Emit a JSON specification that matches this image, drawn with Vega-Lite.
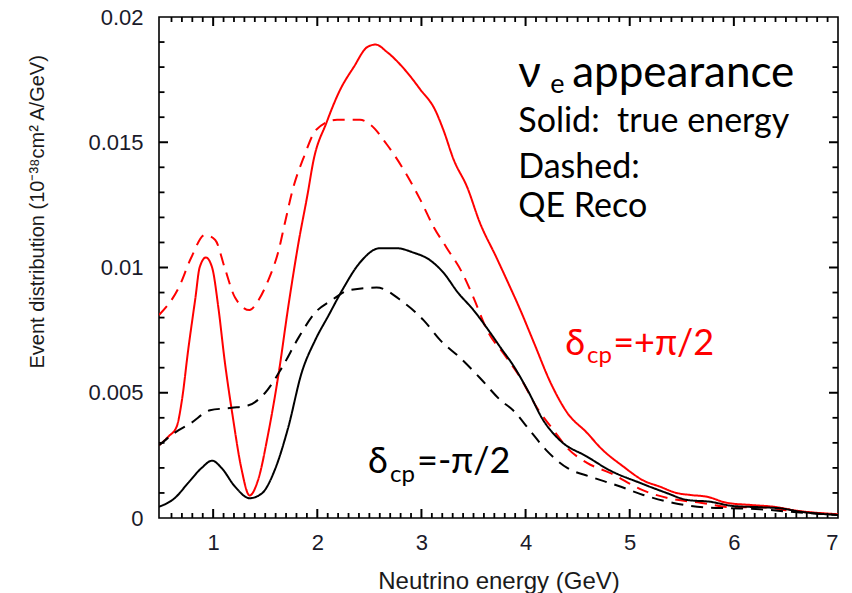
{
  "$schema": "https://vega.github.io/schema/vega-lite/v6.json",
  "autosize": {"type": "none"},
  "padding": {"left": 159, "top": 17, "right": 14, "bottom": 75},
  "width": 679,
  "height": 501,
  "background": "white",
  "config": {
    "view": {"stroke": "#000000", "strokeWidth": 1.6},
    "axis": {"grid": false, "domain": false, "labelFont": "Liberation Sans", "titleFont": "Liberation Sans", "labelFontSize": 22, "titleFontSize": 22, "labelColor": "#1a1a2a", "titleColor": "#1a1a1a", "titleFontWeight": "normal"}
  },
  "datasets": {
    "curves": [
      {"E": 0.48, "y": 0.0029, "series": "+π/2", "energy": "true"},
      {"E": 0.57, "y": 0.00325, "series": "+π/2", "energy": "true"},
      {"E": 0.65, "y": 0.00365, "series": "+π/2", "energy": "true"},
      {"E": 0.70, "y": 0.0047, "series": "+π/2", "energy": "true"},
      {"E": 0.76, "y": 0.0067, "series": "+π/2", "energy": "true"},
      {"E": 0.83, "y": 0.0088, "series": "+π/2", "energy": "true"},
      {"E": 0.87, "y": 0.0100, "series": "+π/2", "energy": "true"},
      {"E": 0.93, "y": 0.0104, "series": "+π/2", "energy": "true"},
      {"E": 0.99, "y": 0.0100, "series": "+π/2", "energy": "true"},
      {"E": 1.05, "y": 0.0084, "series": "+π/2", "energy": "true"},
      {"E": 1.11, "y": 0.0063, "series": "+π/2", "energy": "true"},
      {"E": 1.19, "y": 0.0040, "series": "+π/2", "energy": "true"},
      {"E": 1.27, "y": 0.0020, "series": "+π/2", "energy": "true"},
      {"E": 1.35, "y": 0.0009, "series": "+π/2", "energy": "true"},
      {"E": 1.43, "y": 0.0015, "series": "+π/2", "energy": "true"},
      {"E": 1.53, "y": 0.0034, "series": "+π/2", "energy": "true"},
      {"E": 1.63, "y": 0.0058, "series": "+π/2", "energy": "true"},
      {"E": 1.72, "y": 0.0084, "series": "+π/2", "energy": "true"},
      {"E": 1.82, "y": 0.0110, "series": "+π/2", "energy": "true"},
      {"E": 1.91, "y": 0.0130, "series": "+π/2", "energy": "true"},
      {"E": 1.96, "y": 0.0142, "series": "+π/2", "energy": "true"},
      {"E": 2.09, "y": 0.0158, "series": "+π/2", "energy": "true"},
      {"E": 2.22, "y": 0.0171, "series": "+π/2", "energy": "true"},
      {"E": 2.35, "y": 0.0180, "series": "+π/2", "energy": "true"},
      {"E": 2.48, "y": 0.0188, "series": "+π/2", "energy": "true"},
      {"E": 2.56, "y": 0.0189, "series": "+π/2", "energy": "true"},
      {"E": 2.67, "y": 0.0186, "series": "+π/2", "energy": "true"},
      {"E": 2.86, "y": 0.0178, "series": "+π/2", "energy": "true"},
      {"E": 2.99, "y": 0.0171, "series": "+π/2", "energy": "true"},
      {"E": 3.13, "y": 0.0163, "series": "+π/2", "energy": "true"},
      {"E": 3.21, "y": 0.0155, "series": "+π/2", "energy": "true"},
      {"E": 3.31, "y": 0.0143, "series": "+π/2", "energy": "true"},
      {"E": 3.44, "y": 0.0132, "series": "+π/2", "energy": "true"},
      {"E": 3.56, "y": 0.0118, "series": "+π/2", "energy": "true"},
      {"E": 3.72, "y": 0.0104, "series": "+π/2", "energy": "true"},
      {"E": 3.82, "y": 0.0095, "series": "+π/2", "energy": "true"},
      {"E": 3.95, "y": 0.0083, "series": "+π/2", "energy": "true"},
      {"E": 4.08, "y": 0.0070, "series": "+π/2", "energy": "true"},
      {"E": 4.24, "y": 0.0054, "series": "+π/2", "energy": "true"},
      {"E": 4.40, "y": 0.0042, "series": "+π/2", "energy": "true"},
      {"E": 4.59, "y": 0.0034, "series": "+π/2", "energy": "true"},
      {"E": 4.72, "y": 0.0028, "series": "+π/2", "energy": "true"},
      {"E": 4.94, "y": 0.00205, "series": "+π/2", "energy": "true"},
      {"E": 5.13, "y": 0.0015, "series": "+π/2", "energy": "true"},
      {"E": 5.29, "y": 0.00125, "series": "+π/2", "energy": "true"},
      {"E": 5.45, "y": 0.0010, "series": "+π/2", "energy": "true"},
      {"E": 5.58, "y": 0.00092, "series": "+π/2", "energy": "true"},
      {"E": 5.74, "y": 0.00085, "series": "+π/2", "energy": "true"},
      {"E": 5.93, "y": 0.00061, "series": "+π/2", "energy": "true"},
      {"E": 6.16, "y": 0.00052, "series": "+π/2", "energy": "true"},
      {"E": 6.38, "y": 0.00045, "series": "+π/2", "energy": "true"},
      {"E": 6.61, "y": 0.00029, "series": "+π/2", "energy": "true"},
      {"E": 7.0, "y": 0.00015, "series": "+π/2", "energy": "true"},

      {"E": 0.48, "y": 0.0081, "series": "+π/2", "energy": "QE"},
      {"E": 0.67, "y": 0.0092, "series": "+π/2", "energy": "QE"},
      {"E": 0.79, "y": 0.0104, "series": "+π/2", "energy": "QE"},
      {"E": 0.92, "y": 0.0113, "series": "+π/2", "energy": "QE"},
      {"E": 1.02, "y": 0.0111, "series": "+π/2", "energy": "QE"},
      {"E": 1.11, "y": 0.0100, "series": "+π/2", "energy": "QE"},
      {"E": 1.21, "y": 0.0088, "series": "+π/2", "energy": "QE"},
      {"E": 1.35, "y": 0.0083, "series": "+π/2", "energy": "QE"},
      {"E": 1.42, "y": 0.0086, "series": "+π/2", "energy": "QE"},
      {"E": 1.53, "y": 0.0095, "series": "+π/2", "energy": "QE"},
      {"E": 1.63, "y": 0.0107, "series": "+π/2", "energy": "QE"},
      {"E": 1.69, "y": 0.0118, "series": "+π/2", "energy": "QE"},
      {"E": 1.77, "y": 0.0132, "series": "+π/2", "energy": "QE"},
      {"E": 1.87, "y": 0.0144, "series": "+π/2", "energy": "QE"},
      {"E": 1.99, "y": 0.0155, "series": "+π/2", "energy": "QE"},
      {"E": 2.19, "y": 0.0159, "series": "+π/2", "energy": "QE"},
      {"E": 2.41, "y": 0.0159, "series": "+π/2", "energy": "QE"},
      {"E": 2.51, "y": 0.0157, "series": "+π/2", "energy": "QE"},
      {"E": 2.67, "y": 0.0149, "series": "+π/2", "energy": "QE"},
      {"E": 2.83, "y": 0.0139, "series": "+π/2", "energy": "QE"},
      {"E": 2.99, "y": 0.0127, "series": "+π/2", "energy": "QE"},
      {"E": 3.12, "y": 0.0116, "series": "+π/2", "energy": "QE"},
      {"E": 3.24, "y": 0.0108, "series": "+π/2", "energy": "QE"},
      {"E": 3.39, "y": 0.0098, "series": "+π/2", "energy": "QE"},
      {"E": 3.50, "y": 0.0088, "series": "+π/2", "energy": "QE"},
      {"E": 3.63, "y": 0.0075, "series": "+π/2", "energy": "QE"},
      {"E": 3.80, "y": 0.0065, "series": "+π/2", "energy": "QE"},
      {"E": 3.95, "y": 0.0056, "series": "+π/2", "energy": "QE"},
      {"E": 4.11, "y": 0.0044, "series": "+π/2", "energy": "QE"},
      {"E": 4.27, "y": 0.0035, "series": "+π/2", "energy": "QE"},
      {"E": 4.40, "y": 0.0028, "series": "+π/2", "energy": "QE"},
      {"E": 4.59, "y": 0.0022, "series": "+π/2", "energy": "QE"},
      {"E": 4.81, "y": 0.0018, "series": "+π/2", "energy": "QE"},
      {"E": 5.13, "y": 0.0011, "series": "+π/2", "energy": "QE"},
      {"E": 5.42, "y": 0.00075, "series": "+π/2", "energy": "QE"},
      {"E": 5.68, "y": 0.00061, "series": "+π/2", "energy": "QE"},
      {"E": 5.97, "y": 0.00043, "series": "+π/2", "energy": "QE"},
      {"E": 6.25, "y": 0.00043, "series": "+π/2", "energy": "QE"},
      {"E": 6.54, "y": 0.00029, "series": "+π/2", "energy": "QE"},
      {"E": 7.0, "y": 0.00012, "series": "+π/2", "energy": "QE"},

      {"E": 0.48, "y": 0.00045, "series": "−π/2", "energy": "true"},
      {"E": 0.63, "y": 0.00079, "series": "−π/2", "energy": "true"},
      {"E": 0.76, "y": 0.0014, "series": "−π/2", "energy": "true"},
      {"E": 0.89, "y": 0.0020, "series": "−π/2", "energy": "true"},
      {"E": 0.99, "y": 0.00229, "series": "−π/2", "energy": "true"},
      {"E": 1.08, "y": 0.0020, "series": "−π/2", "energy": "true"},
      {"E": 1.21, "y": 0.00125, "series": "−π/2", "energy": "true"},
      {"E": 1.35, "y": 0.00079, "series": "−π/2", "energy": "true"},
      {"E": 1.47, "y": 0.00099, "series": "−π/2", "energy": "true"},
      {"E": 1.59, "y": 0.0019, "series": "−π/2", "energy": "true"},
      {"E": 1.72, "y": 0.0036, "series": "−π/2", "energy": "true"},
      {"E": 1.85, "y": 0.0058, "series": "−π/2", "energy": "true"},
      {"E": 1.98, "y": 0.0071, "series": "−π/2", "energy": "true"},
      {"E": 2.11, "y": 0.0081, "series": "−π/2", "energy": "true"},
      {"E": 2.24, "y": 0.0091, "series": "−π/2", "energy": "true"},
      {"E": 2.41, "y": 0.0102, "series": "−π/2", "energy": "true"},
      {"E": 2.60, "y": 0.01077, "series": "−π/2", "energy": "true"},
      {"E": 2.76, "y": 0.01077, "series": "−π/2", "energy": "true"},
      {"E": 2.92, "y": 0.0106, "series": "−π/2", "energy": "true"},
      {"E": 3.08, "y": 0.0103, "series": "−π/2", "energy": "true"},
      {"E": 3.21, "y": 0.0098, "series": "−π/2", "energy": "true"},
      {"E": 3.35, "y": 0.0090, "series": "−π/2", "energy": "true"},
      {"E": 3.50, "y": 0.0083, "series": "−π/2", "energy": "true"},
      {"E": 3.66, "y": 0.0074, "series": "−π/2", "energy": "true"},
      {"E": 3.76, "y": 0.0068, "series": "−π/2", "energy": "true"},
      {"E": 3.88, "y": 0.0061, "series": "−π/2", "energy": "true"},
      {"E": 4.02, "y": 0.0051, "series": "−π/2", "energy": "true"},
      {"E": 4.17, "y": 0.0039, "series": "−π/2", "energy": "true"},
      {"E": 4.33, "y": 0.0031, "series": "−π/2", "energy": "true"},
      {"E": 4.59, "y": 0.00245, "series": "−π/2", "energy": "true"},
      {"E": 4.81, "y": 0.0019, "series": "−π/2", "energy": "true"},
      {"E": 5.10, "y": 0.0014, "series": "−π/2", "energy": "true"},
      {"E": 5.36, "y": 0.00099, "series": "−π/2", "energy": "true"},
      {"E": 5.55, "y": 0.00072, "series": "−π/2", "energy": "true"},
      {"E": 5.77, "y": 0.00065, "series": "−π/2", "energy": "true"},
      {"E": 5.99, "y": 0.00048, "series": "−π/2", "energy": "true"},
      {"E": 6.25, "y": 0.00043, "series": "−π/2", "energy": "true"},
      {"E": 6.44, "y": 0.00039, "series": "−π/2", "energy": "true"},
      {"E": 6.64, "y": 0.00025, "series": "−π/2", "energy": "true"},
      {"E": 7.0, "y": 0.00012, "series": "−π/2", "energy": "true"},

      {"E": 0.48, "y": 0.0029, "series": "−π/2", "energy": "QE"},
      {"E": 0.63, "y": 0.0034, "series": "−π/2", "energy": "QE"},
      {"E": 0.79, "y": 0.0038, "series": "−π/2", "energy": "QE"},
      {"E": 0.97, "y": 0.0043, "series": "−π/2", "energy": "QE"},
      {"E": 1.18, "y": 0.0044, "series": "−π/2", "energy": "QE"},
      {"E": 1.34, "y": 0.0045, "series": "−π/2", "energy": "QE"},
      {"E": 1.50, "y": 0.0050, "series": "−π/2", "energy": "QE"},
      {"E": 1.66, "y": 0.0060, "series": "−π/2", "energy": "QE"},
      {"E": 1.82, "y": 0.0072, "series": "−π/2", "energy": "QE"},
      {"E": 1.98, "y": 0.0082, "series": "−π/2", "energy": "QE"},
      {"E": 2.14, "y": 0.0087, "series": "−π/2", "energy": "QE"},
      {"E": 2.31, "y": 0.0091, "series": "−π/2", "energy": "QE"},
      {"E": 2.57, "y": 0.0092, "series": "−π/2", "energy": "QE"},
      {"E": 2.83, "y": 0.0086, "series": "−π/2", "energy": "QE"},
      {"E": 3.02, "y": 0.0079, "series": "−π/2", "energy": "QE"},
      {"E": 3.18, "y": 0.0071, "series": "−π/2", "energy": "QE"},
      {"E": 3.37, "y": 0.0064, "series": "−π/2", "energy": "QE"},
      {"E": 3.56, "y": 0.0056, "series": "−π/2", "energy": "QE"},
      {"E": 3.76, "y": 0.0047, "series": "−π/2", "energy": "QE"},
      {"E": 3.88, "y": 0.0043, "series": "−π/2", "energy": "QE"},
      {"E": 4.04, "y": 0.0035, "series": "−π/2", "energy": "QE"},
      {"E": 4.20, "y": 0.0027, "series": "−π/2", "energy": "QE"},
      {"E": 4.40, "y": 0.0020, "series": "−π/2", "energy": "QE"},
      {"E": 4.62, "y": 0.00165, "series": "−π/2", "energy": "QE"},
      {"E": 4.88, "y": 0.0013, "series": "−π/2", "energy": "QE"},
      {"E": 5.13, "y": 0.00092, "series": "−π/2", "energy": "QE"},
      {"E": 5.42, "y": 0.0006, "series": "−π/2", "energy": "QE"},
      {"E": 5.71, "y": 0.00043, "series": "−π/2", "energy": "QE"},
      {"E": 5.97, "y": 0.00039, "series": "−π/2", "energy": "QE"},
      {"E": 6.25, "y": 0.00035, "series": "−π/2", "energy": "QE"},
      {"E": 6.54, "y": 0.00025, "series": "−π/2", "energy": "QE"},
      {"E": 7.0, "y": 0.00012, "series": "−π/2", "energy": "QE"}
    ],
    "xticks": [
      {"v": 0.6, "major": false}, {"v": 0.7, "major": false}, {"v": 0.8, "major": false}, {"v": 0.9, "major": false}, {"v": 1, "major": true},
      {"v": 1.1, "major": false}, {"v": 1.2, "major": false}, {"v": 1.3, "major": false}, {"v": 1.4, "major": false}, {"v": 1.5, "major": false},
      {"v": 1.6, "major": false}, {"v": 1.7, "major": false}, {"v": 1.8, "major": false}, {"v": 1.9, "major": false}, {"v": 2, "major": true},
      {"v": 2.1, "major": false}, {"v": 2.2, "major": false}, {"v": 2.3, "major": false}, {"v": 2.4, "major": false}, {"v": 2.5, "major": false},
      {"v": 2.6, "major": false}, {"v": 2.7, "major": false}, {"v": 2.8, "major": false}, {"v": 2.9, "major": false}, {"v": 3, "major": true},
      {"v": 3.1, "major": false}, {"v": 3.2, "major": false}, {"v": 3.3, "major": false}, {"v": 3.4, "major": false}, {"v": 3.5, "major": false},
      {"v": 3.6, "major": false}, {"v": 3.7, "major": false}, {"v": 3.8, "major": false}, {"v": 3.9, "major": false}, {"v": 4, "major": true},
      {"v": 4.1, "major": false}, {"v": 4.2, "major": false}, {"v": 4.3, "major": false}, {"v": 4.4, "major": false}, {"v": 4.5, "major": false},
      {"v": 4.6, "major": false}, {"v": 4.7, "major": false}, {"v": 4.8, "major": false}, {"v": 4.9, "major": false}, {"v": 5, "major": true},
      {"v": 5.1, "major": false}, {"v": 5.2, "major": false}, {"v": 5.3, "major": false}, {"v": 5.4, "major": false}, {"v": 5.5, "major": false},
      {"v": 5.6, "major": false}, {"v": 5.7, "major": false}, {"v": 5.8, "major": false}, {"v": 5.9, "major": false}, {"v": 6, "major": true},
      {"v": 6.1, "major": false}, {"v": 6.2, "major": false}, {"v": 6.3, "major": false}, {"v": 6.4, "major": false}, {"v": 6.5, "major": false},
      {"v": 6.6, "major": false}, {"v": 6.7, "major": false}, {"v": 6.8, "major": false}, {"v": 6.9, "major": false}
    ],
    "yticks": [
      {"v": 0.001, "major": false}, {"v": 0.002, "major": false}, {"v": 0.003, "major": false}, {"v": 0.004, "major": false}, {"v": 0.005, "major": true},
      {"v": 0.006, "major": false}, {"v": 0.007, "major": false}, {"v": 0.008, "major": false}, {"v": 0.009, "major": false}, {"v": 0.01, "major": true},
      {"v": 0.011, "major": false}, {"v": 0.012, "major": false}, {"v": 0.013, "major": false}, {"v": 0.014, "major": false}, {"v": 0.015, "major": true},
      {"v": 0.016, "major": false}, {"v": 0.017, "major": false}, {"v": 0.018, "major": false}, {"v": 0.019, "major": false}
    ],
    "notes": [
      {"label": "ν", "E": 3.93, "y": 0.01722, "kind": "big", "series": "note"},
      {"label": "appearance", "E": 4.447, "y": 0.01722, "kind": "big", "series": "note"},
      {"label": "e", "E": 4.236, "y": 0.01697, "kind": "sub", "series": "note"},
      {"label": "Solid:\u00a0 true energy", "E": 3.93, "y": 0.01542, "kind": "body", "series": "note"},
      {"label": "Dashed:", "E": 3.93, "y": 0.01357, "kind": "body", "series": "note"},
      {"label": "QE Reco", "E": 3.93, "y": 0.01202, "kind": "body", "series": "note"},
      {"label": "δ", "E": 4.38, "y": 0.00651, "kind": "delta", "series": "+π/2"},
      {"label": "cp", "E": 4.591, "y": 0.00619, "kind": "dsub", "series": "+π/2"},
      {"label": "=+π/2", "E": 4.841, "y": 0.00651, "kind": "delta", "series": "+π/2"},
      {"label": "δ", "E": 2.488, "y": 0.0018, "kind": "delta", "series": "−π/2"},
      {"label": "cp", "E": 2.699, "y": 0.00144, "kind": "dsub", "series": "−π/2"},
      {"label": "=-π/2", "E": 2.958, "y": 0.0018, "kind": "delta", "series": "−π/2"}
    ]
  },
  "layer": [
    {
      "data": {"name": "curves"},
      "mark": {"type": "line", "strokeWidth": 2, "interpolate": "monotone", "clip": true},
      "encoding": {
        "x": {"field": "E", "type": "quantitative", "scale": {"domain": [0.48, 7], "nice": false, "zero": false},
          "axis": {"orient": "bottom", "values": [1, 2, 3, 4, 5, 6, 7], "format": "d", "ticks": false, "labelPadding": 14, "title": "Neutrino energy (GeV)", "titleFontSize": 24, "titleY": 70, "titleBaseline": "alphabetic"}},
        "y": {"field": "y", "type": "quantitative", "scale": {"domain": [0, 0.02], "nice": false},
          "axis": {"orient": "left", "values": [0, 0.005, 0.01, 0.015, 0.02], "format": "~g", "ticks": false, "labelPadding": 16, "title": "Event distribution (10⁻³⁸cm² A/GeV)", "titleFontSize": 20, "titlePadding": 40, "titleAlign": "left", "titleAnchor": "start", "titleY": 351}},
        "color": {"field": "series", "type": "nominal", "scale": {"domain": ["+π/2", "−π/2", "note"], "range": ["#ff0000", "#000000", "#000000"]}, "legend": null},
        "strokeDash": {"field": "energy", "type": "nominal", "scale": {"domain": ["true", "QE"], "range": [[1, 0], [12, 8]]}, "legend": null}
      }
    },
    {
      "data": {"name": "xticks"},
      "transform": [{"filter": "datum.major"}],
      "mark": {"type": "tick", "orient": "vertical", "color": "#000000", "opacity": 1, "size": 18, "thickness": 2, "clip": true},
      "encoding": {"x": {"field": "v", "type": "quantitative"}, "y": {"datum": 0, "type": "quantitative"}}
    },
    {
      "data": {"name": "xticks"},
      "transform": [{"filter": "datum.major"}],
      "mark": {"type": "tick", "orient": "vertical", "color": "#000000", "opacity": 1, "size": 18, "thickness": 2, "clip": true},
      "encoding": {"x": {"field": "v", "type": "quantitative"}, "y": {"datum": 0.02, "type": "quantitative"}}
    },
    {
      "data": {"name": "xticks"},
      "transform": [{"filter": "!datum.major"}],
      "mark": {"type": "tick", "orient": "vertical", "color": "#000000", "opacity": 1, "size": 10, "thickness": 1.8, "clip": true},
      "encoding": {"x": {"field": "v", "type": "quantitative"}, "y": {"datum": 0, "type": "quantitative"}}
    },
    {
      "data": {"name": "xticks"},
      "transform": [{"filter": "!datum.major"}],
      "mark": {"type": "tick", "orient": "vertical", "color": "#000000", "opacity": 1, "size": 10, "thickness": 1.8, "clip": true},
      "encoding": {"x": {"field": "v", "type": "quantitative"}, "y": {"datum": 0.02, "type": "quantitative"}}
    },
    {
      "data": {"name": "yticks"},
      "transform": [{"filter": "datum.major"}],
      "mark": {"type": "tick", "orient": "horizontal", "color": "#000000", "opacity": 1, "size": 18, "thickness": 2, "clip": true},
      "encoding": {"y": {"field": "v", "type": "quantitative"}, "x": {"datum": 0.48, "type": "quantitative"}}
    },
    {
      "data": {"name": "yticks"},
      "transform": [{"filter": "datum.major"}],
      "mark": {"type": "tick", "orient": "horizontal", "color": "#000000", "opacity": 1, "size": 18, "thickness": 2, "clip": true},
      "encoding": {"y": {"field": "v", "type": "quantitative"}, "x": {"datum": 7, "type": "quantitative"}}
    },
    {
      "data": {"name": "yticks"},
      "transform": [{"filter": "!datum.major"}],
      "mark": {"type": "tick", "orient": "horizontal", "color": "#000000", "opacity": 1, "size": 11, "thickness": 1.8, "clip": true},
      "encoding": {"y": {"field": "v", "type": "quantitative"}, "x": {"datum": 0.48, "type": "quantitative"}}
    },
    {
      "data": {"name": "yticks"},
      "transform": [{"filter": "!datum.major"}],
      "mark": {"type": "tick", "orient": "horizontal", "color": "#000000", "opacity": 1, "size": 11, "thickness": 1.8, "clip": true},
      "encoding": {"y": {"field": "v", "type": "quantitative"}, "x": {"datum": 7, "type": "quantitative"}}
    },
    {
      "data": {"name": "notes"},
      "transform": [{"filter": "datum.kind === 'big'"}],
      "mark": {"type": "text", "font": "Lato", "fontSize": 44, "align": "left", "baseline": "alphabetic"},
      "encoding": {
        "x": {"field": "E", "type": "quantitative"},
        "y": {"field": "y", "type": "quantitative"},
        "text": {"field": "label"},
        "color": {"field": "series", "type": "nominal", "legend": null}
      }
    },
    {
      "data": {"name": "notes"},
      "transform": [{"filter": "datum.kind === 'sub'"}],
      "mark": {"type": "text", "font": "Lato", "fontSize": 27, "align": "left", "baseline": "alphabetic"},
      "encoding": {
        "x": {"field": "E", "type": "quantitative"},
        "y": {"field": "y", "type": "quantitative"},
        "text": {"field": "label"},
        "color": {"field": "series", "type": "nominal", "legend": null}
      }
    },
    {
      "data": {"name": "notes"},
      "transform": [{"filter": "datum.kind === 'body'"}],
      "mark": {"type": "text", "font": "Lato", "fontSize": 34, "align": "left", "baseline": "alphabetic"},
      "encoding": {
        "x": {"field": "E", "type": "quantitative"},
        "y": {"field": "y", "type": "quantitative"},
        "text": {"field": "label"},
        "color": {"field": "series", "type": "nominal", "legend": null}
      }
    },
    {
      "data": {"name": "notes"},
      "transform": [{"filter": "datum.kind === 'delta'"}],
      "mark": {"type": "text", "font": "Lato", "fontSize": 36, "align": "left", "baseline": "alphabetic"},
      "encoding": {
        "x": {"field": "E", "type": "quantitative"},
        "y": {"field": "y", "type": "quantitative"},
        "text": {"field": "label"},
        "color": {"field": "series", "type": "nominal", "legend": null}
      }
    },
    {
      "data": {"name": "notes"},
      "transform": [{"filter": "datum.kind === 'dsub'"}],
      "mark": {"type": "text", "font": "Lato", "fontSize": 24, "align": "left", "baseline": "alphabetic"},
      "encoding": {
        "x": {"field": "E", "type": "quantitative"},
        "y": {"field": "y", "type": "quantitative"},
        "text": {"field": "label"},
        "color": {"field": "series", "type": "nominal", "legend": null}
      }
    }
  ]
}
